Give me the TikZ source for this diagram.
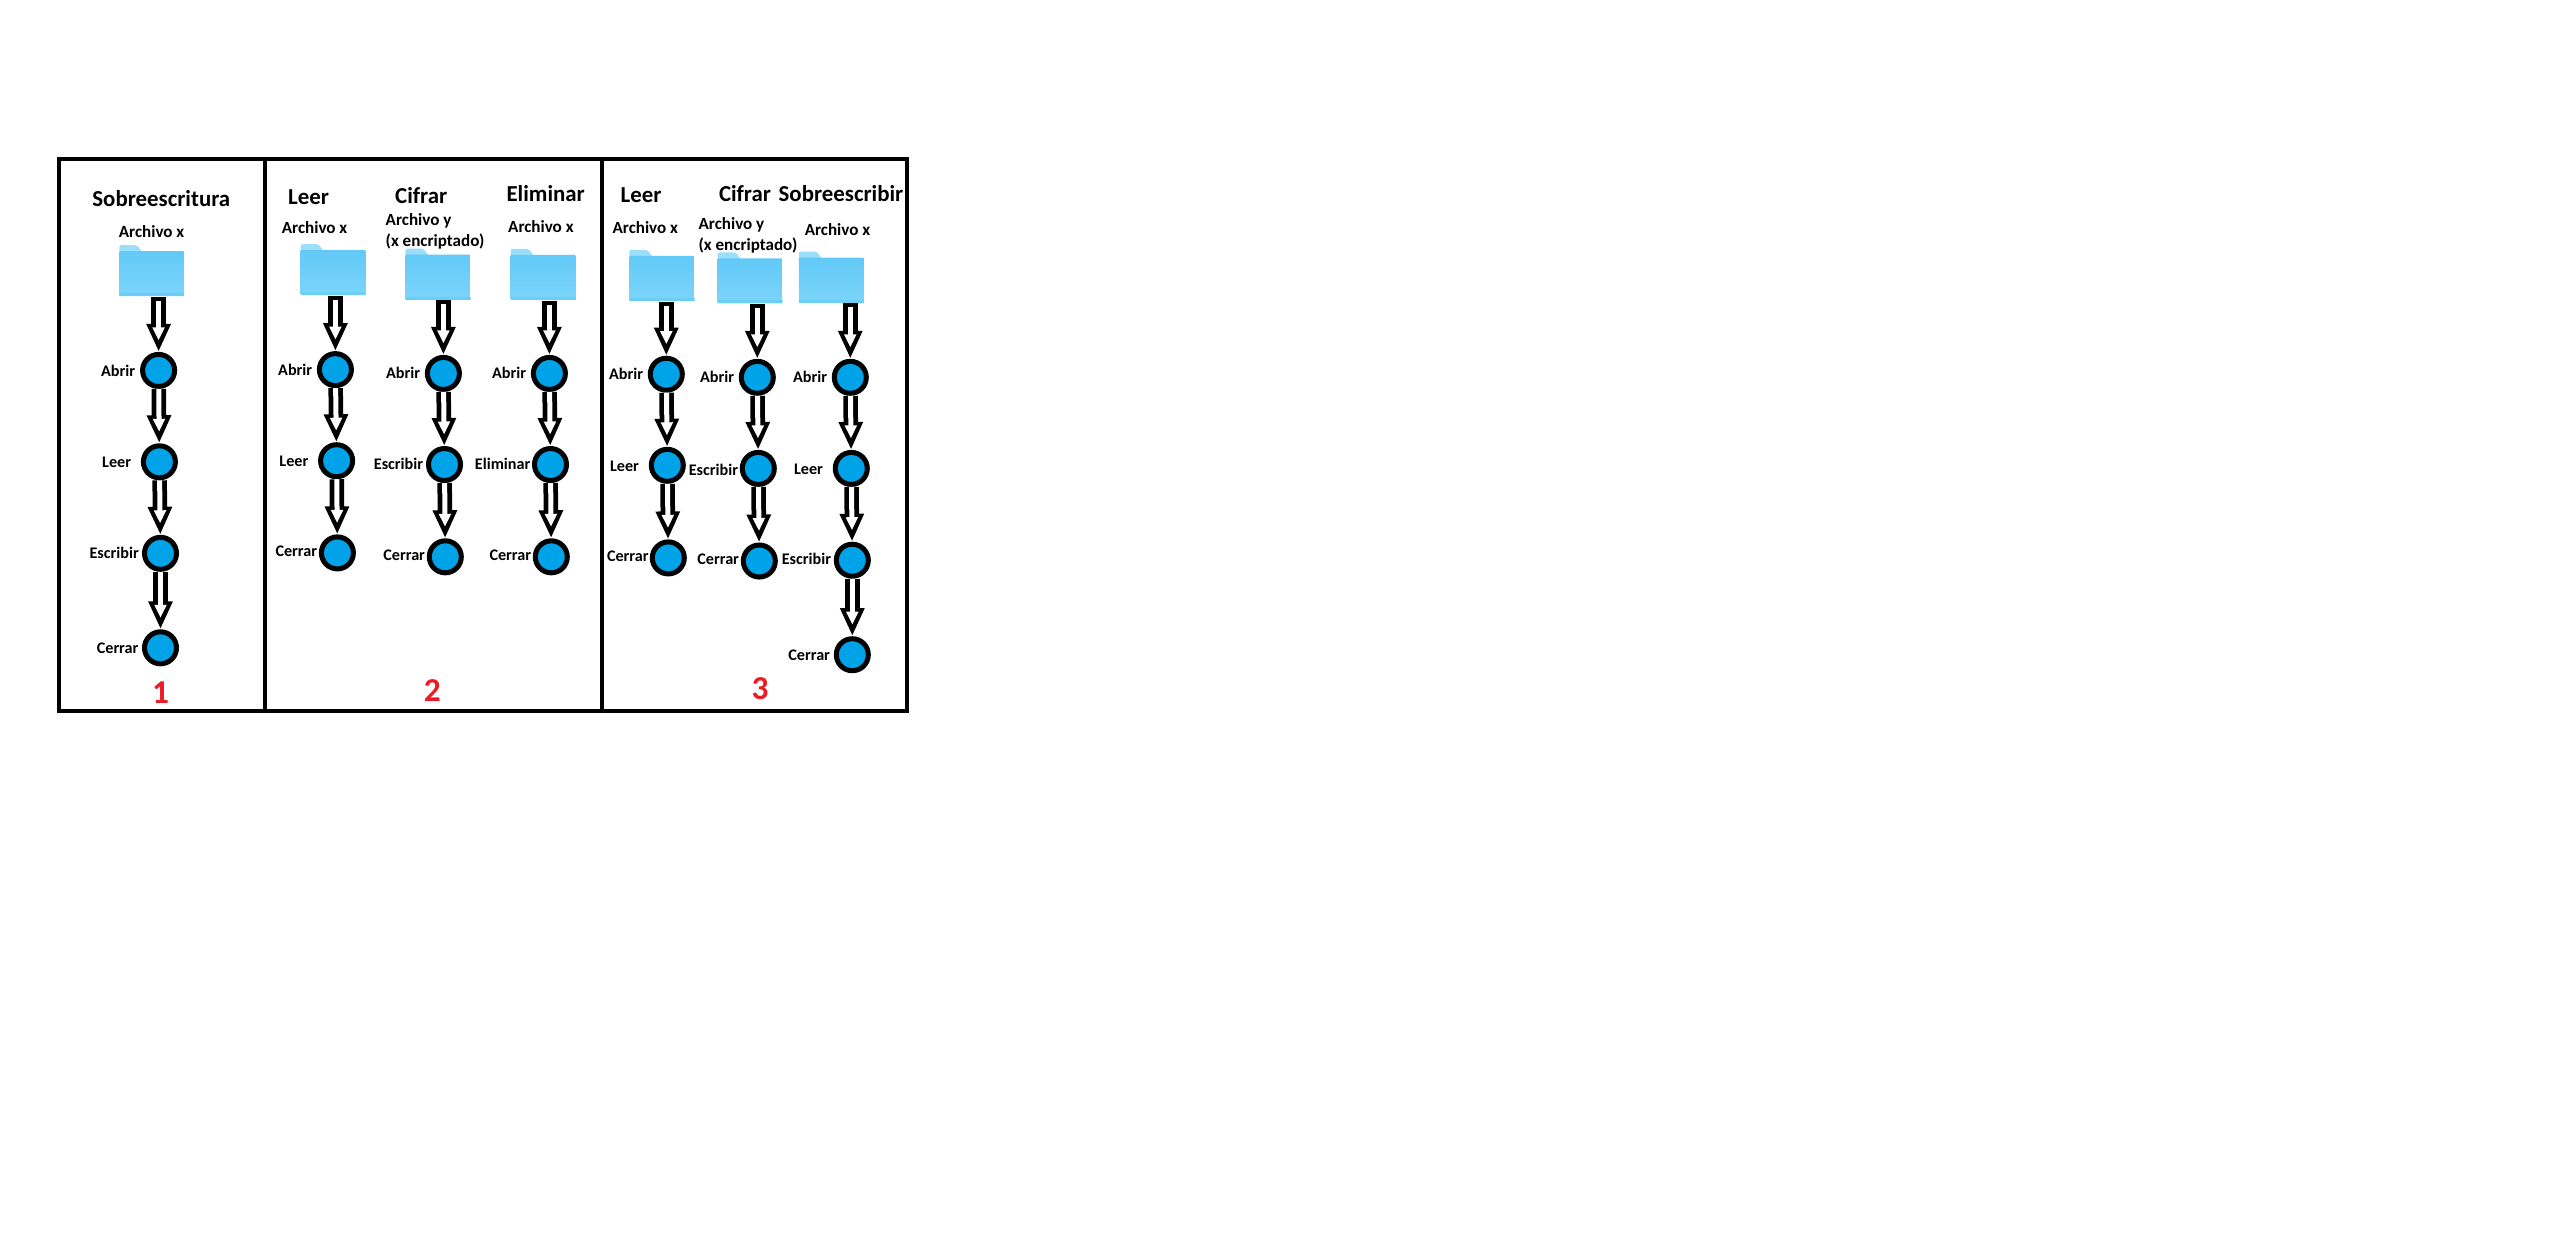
\documentclass[tikz,border=0pt]{standalone}
\usepackage{fontspec}
\setmainfont{Carlito}
\usetikzlibrary{positioning, arrows.meta}
\definecolor{azulnodo}{HTML}{00A2E8}
\definecolor{rojonum}{HTML}{ED1C24}
\definecolor{pestana}{HTML}{9ADEFB}
\definecolor{carpetaalta}{HTML}{62C9F7}
\definecolor{carpetabaja}{HTML}{7CD5FA}
\definecolor{carpetaborde}{HTML}{6CCDF5}
\tikzset{
    >=Stealth,
    every node/.style={inner sep=0pt}
}

\begin{document}
\begin{tikzpicture}[
  x=0.01cm, y=-0.01cm,
  etapa/.style={circle, draw=black, fill=azulnodo, line width=0.05cm, minimum size=0.32cm},
  rotulo/.style={anchor=east, text height=0.11cm, text depth=0pt, font=\bfseries\fontsize{4.6}{5.5}\selectfont},
  archivo/.style={align=left, font=\bfseries\fontsize{4.85}{5.9}\selectfont},
  titulo/.style={font=\bfseries\fontsize{6.5}{7}\selectfont},
  numero/.style={text=rojonum, font=\bfseries\fontsize{9.5}{11}\selectfont},
  marco/.style={draw=black, line width=0.046cm},
  carpeta/.style={rectangle, minimum width=0.65cm, minimum height=0.51cm, path picture={
    \fill[pestana, rounded corners=0.02cm] (path picture bounding box.north west) -- ++(0.18cm,0) -- ++(0.05cm,-0.07cm) -- ++(0cm,-0.04cm) -- ++(-0.23cm,0cm) -- cycle;
    \shade[top color=carpetaalta, bottom color=carpetabaja, rounded corners=0.01cm] ([yshift=-0.06cm]path picture bounding box.north west) rectangle (path picture bounding box.south east);
    \fill[carpetaborde] ([yshift=0.03cm]path picture bounding box.south west) rectangle (path picture bounding box.south east);
  }},
  flecha/.style={draw=black, line width=0.145cm, -{Triangle[length=0.28cm, width=0.225cm]},
    postaction={draw=white, line width=0.05cm, shorten <=#1, shorten >=0.115cm, -{Triangle[length=0.13cm, width=0.115cm]}}},
  flecha/.default=0cm
]
  \path[use as bounding box] (0,0) rectangle (2562,1256);

  % Panel 1
  \node[titulo] (tituloA) at (161.3,198.2) {Sobreescritura};
  \node[archivo] (archivoA) at (151.6,231.8) {Archivo x};
  \node[carpeta] (carpetaA) at (151.8,270.7) {};
  \node[etapa] (abrirA) at (158.6,370.4) {};
  \node[etapa] (leerA) at (159.4,461.8) {};
  \node[etapa] (escribirA) at (160.5,553.3) {};
  \node[etapa] (cerrarA) at (160.5,647.8) {};
  \node[rotulo] (txtAbrirA) at (135.7,370.8) {Abrir};
  \node[rotulo] (txtLeerA) at (131.8,461.8) {Leer};
  \node[rotulo] (txtEscribirA) at (139.5,552.5) {Escribir};
  \node[rotulo] (txtCerrarA) at (139.1,647.8) {Cerrar};
  \node[numero] (numA) at (160.5,692.2) {1};
  \draw[flecha=0.04cm] (carpetaA.south -| abrirA) -- (abrirA);
  \draw[flecha] (abrirA) -- (leerA);
  \draw[flecha] (leerA) -- (escribirA);
  \draw[flecha] (escribirA) -- (cerrarA);

  % Panel 2, leer
  \node[titulo] (tituloB) at (308.5,197.4) {Leer};
  \node[archivo] (archivoB) at (314.6,228) {Archivo x};
  \node[carpeta] (carpetaB) at (333.1,269.7) {};
  \node[etapa] (abrirB) at (335.4,369.6) {};
  \node[etapa] (leerB) at (336.6,460.7) {};
  \node[etapa] (cerrarB) at (337.4,552.9) {};
  \node[rotulo] (txtAbrirB) at (312.9,369.6) {Abrir};
  \node[rotulo] (txtLeerB) at (309,460.7) {Leer};
  \node[rotulo] (txtCerrarB) at (317.8,550.6) {Cerrar};
  \draw[flecha=0.04cm] (carpetaB.south -| abrirB) -- (abrirB);
  \draw[flecha] (abrirB) -- (leerB);
  \draw[flecha] (leerB) -- (cerrarB);

  % Panel 2, cifrar
  \node[titulo] (tituloC) at (421.2,195.1) {Cifrar};
  \node[archivo] (archivoC) at (435.1,231.3) {Archivo y\\(x encriptado)};
  \node[carpeta] (carpetaC) at (438,274.1) {};
  \node[etapa] (abrirC) at (443.4,373.4) {};
  \node[etapa] (escribirC) at (444.5,464.5) {};
  \node[etapa] (cerrarC) at (445.3,556.8) {};
  \node[rotulo] (txtAbrirC) at (420.8,373.4) {Abrir};
  \node[rotulo] (txtEscribirC) at (423.8,463.8) {Escribir};
  \node[rotulo] (txtCerrarC) at (425.7,554.8) {Cerrar};
  \node[numero] (numB) at (432.3,691) {2};
  \draw[flecha=0.04cm] (carpetaC.south -| abrirC) -- (abrirC);
  \draw[flecha] (abrirC) -- (escribirC);
  \draw[flecha] (escribirC) -- (cerrarC);

  % Panel 2, eliminar
  \node[titulo] (tituloD) at (545.7,194) {Eliminar};
  \node[archivo] (archivoD) at (540.9,226.1) {Archivo x};
  \node[carpeta] (carpetaD) at (543.2,274.3) {};
  \node[etapa] (abrirD) at (549.4,373.4) {};
  \node[etapa] (eliminarD) at (550.5,464.5) {};
  \node[etapa] (cerrarD) at (551.3,556.8) {};
  \node[rotulo] (txtAbrirD) at (526.8,373.4) {Abrir};
  \node[rotulo] (txtEliminarD) at (531,463.8) {Eliminar};
  \node[rotulo] (txtCerrarD) at (531.8,554.8) {Cerrar};
  \draw[flecha=0.04cm] (carpetaD.south -| abrirD) -- (abrirD);
  \draw[flecha] (abrirD) -- (eliminarD);
  \draw[flecha] (eliminarD) -- (cerrarD);

  % Panel 3, leer
  \node[titulo] (tituloE) at (641,194.7) {Leer};
  \node[archivo] (archivoE) at (645.3,228) {Archivo x};
  \node[carpeta] (carpetaE) at (662,275.3) {};
  \node[etapa] (abrirE) at (666.3,374.2) {};
  \node[etapa] (leerE) at (667.3,465.3) {};
  \node[etapa] (cerrarE) at (668.3,557.9) {};
  \node[rotulo] (txtAbrirE) at (643.7,374.2) {Abrir};
  \node[rotulo] (txtLeerE) at (639.7,466) {Leer};
  \node[rotulo] (txtCerrarE) at (649.3,555.6) {Cerrar};
  \draw[flecha=0.04cm] (carpetaE.south -| abrirE) -- (abrirE);
  \draw[flecha] (abrirE) -- (leerE);
  \draw[flecha] (leerE) -- (cerrarE);

  % Panel 3, cifrar
  \node[titulo] (tituloF) at (745,193.6) {Cifrar};
  \node[archivo] (archivoF) at (748,235.5) {Archivo y\\(x encriptado)};
  \node[carpeta] (carpetaF) at (750.2,277.8) {};
  \node[etapa] (abrirF) at (757.3,377.3) {};
  \node[etapa] (escribirF) at (758.3,468.4) {};
  \node[etapa] (cerrarF) at (759.3,561) {};
  \node[rotulo] (txtAbrirF) at (734.7,377.3) {Abrir};
  \node[rotulo] (txtEscribirF) at (738.7,470.3) {Escribir};
  \node[rotulo] (txtCerrarF) at (739.7,558.7) {Cerrar};
  \node[numero] (numC) at (760,688.8) {3};
  \draw[flecha=0.04cm] (carpetaF.south -| abrirF) -- (abrirF);
  \draw[flecha] (abrirF) -- (escribirF);
  \draw[flecha] (escribirF) -- (cerrarF);

  % Panel 3, sobreescribir
  \node[titulo] (tituloG) at (841,193.6) {Sobreescribir};
  \node[archivo] (archivoG) at (837.5,229.9) {Archivo x};
  \node[carpeta] (carpetaG) at (831.3,277) {};
  \node[etapa] (abrirG) at (850.3,377.3) {};
  \node[etapa] (leerG) at (851.3,468.4) {};
  \node[etapa] (escribirG) at (852.3,560.2) {};
  \node[etapa] (cerrarG) at (852.3,654.7) {};
  \node[rotulo] (txtAbrirG) at (827.7,377.3) {Abrir};
  \node[rotulo] (txtLeerG) at (823.7,469.1) {Leer};
  \node[rotulo] (txtEscribirG) at (831.7,559.4) {Escribir};
  \node[rotulo] (txtCerrarG) at (830.7,654.7) {Cerrar};
  \draw[flecha=0.04cm] (carpetaG.south -| abrirG) -- (abrirG);
  \draw[flecha] (abrirG) -- (leerG);
  \draw[flecha] (leerG) -- (escribirG);
  \draw[flecha] (escribirG) -- (cerrarG);

  % Frames
  \draw[marco] (59,159) rectangle (265,711);
  \draw[marco] (265,159) rectangle (602,711);
  \draw[marco] (602,159) rectangle (907,711);
\end{tikzpicture}
\end{document}
